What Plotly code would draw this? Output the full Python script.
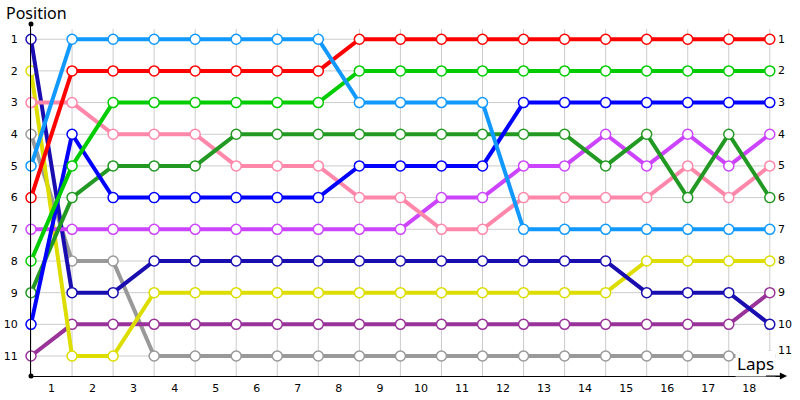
import plotly.graph_objects as go

laps = list(range(0, 19))
lap_labels = [str(i) for i in range(1, 19)]
positions = list(range(1, 12))

red = [6, 2, 2, 2, 2, 2, 2, 2, 1, 1, 1, 1, 1, 1, 1, 1, 1, 1, 1]
light_blue = [5, 1, 1, 1, 1, 1, 1, 1, 3, 3, 3, 3, 7, 7, 7, 7, 7, 7, 7]
green = [8, 5, 3, 3, 3, 3, 3, 3, 2, 2, 2, 2, 2, 2, 2, 2, 2, 2, 2]
navy = [1, 9, 9, 8, 8, 8, 8, 8, 8, 8, 8, 8, 8, 8, 8, 9, 9, 9, 10]
blue = [10, 4, 6, 6, 6, 6, 6, 6, 5, 5, 5, 5, 3, 3, 3, 3, 3, 3, 3]
yellow = [2, 11, 11, 9, 9, 9, 9, 9, 9, 9, 9, 9, 9, 9, 9, 8, 8, 8, 8]
pink = [3, 3, 4, 4, 4, 5, 5, 5, 6, 6, 7, 7, 6, 6, 6, 6, 5, 6, 5]
dark_green = [9, 6, 5, 5, 5, 4, 4, 4, 4, 4, 4, 4, 4, 4, 5, 4, 6, 4, 6]
violet = [7, 7, 7, 7, 7, 7, 7, 7, 7, 7, 6, 6, 5, 5, 4, 5, 4, 5, 4]
plum = [11, 10, 10, 10, 10, 10, 10, 10, 10, 10, 10, 10, 10, 10, 10, 10, 10, 10, 9]
gray = [4, 8, 8, 11, 11, 11, 11, 11, 11, 11, 11, 11, 11, 11, 11, 11, 11, 11, 11]

series = [
    (gray, "#999999"),
    (plum, "#993399"),
    (yellow, "#dddd00"),
    (navy, "#1a0db0"),
    (violet, "#cc44ff"),
    (pink, "#ff88aa"),
    (dark_green, "#229922"),
    (blue, "#0000ff"),
    (green, "#00cc00"),
    (red, "#ff0000"),
    (light_blue, "#1199ff"),
]

Y_TOP = 0.52
Y_BOT = 11.63
X_MAX = 18.37
FONT = "DejaVu Sans"

fig = go.Figure()

shapes = []
for lp in laps:
    shapes.append(dict(type="line", xref="x", yref="y", x0=lp, x1=lp, y0=0.68, y1=Y_BOT,
                       line=dict(color="#cccccc", width=1), layer="below"))
for p in positions:
    shapes.append(dict(type="line", xref="x", yref="y", x0=laps[0], x1=laps[-1], y0=p, y1=p,
                       line=dict(color="#cccccc", width=1), layer="below"))

for vals, col in series:
    fig.add_trace(go.Scatter(
        x=laps, y=vals, mode="lines+markers",
        line=dict(color=col, width=4),
        marker=dict(size=10, color="white", line=dict(color=col, width=1.5)),
        cliponaxis=False, hoverinfo="skip", showlegend=False))

annotations = [
    dict(xref="paper", yref="paper", x=0, y=1, xshift=-27, yshift=24,
         xanchor="left", yanchor="top", text="Position", showarrow=False,
         font=dict(family="Noto Sans", size=16, color="#000000")),
    dict(xref="x", yref="y", x=laps[-1], y=Y_BOT, xshift=6, yshift=-1, xanchor="right", yanchor="bottom",
         text="Laps", showarrow=False, bgcolor="white", borderpad=1,
         font=dict(family="Noto Sans", size=17, color="#000000")),
    dict(xref="x", yref="y", x=X_MAX + 0.05, y=Y_BOT, ax=X_MAX - 0.5, ay=Y_BOT,
         axref="x", ayref="y", showarrow=True, arrowhead=2, arrowsize=1.2,
         arrowwidth=1.2, arrowcolor="#000000", text=""),
]
for p in positions:
    annotations.append(dict(
        xref="x", yref="y", x=laps[-1], y=p, xshift=6, yshift=(6 if p == positions[-1] else 0),
        xanchor="left", yanchor="middle", text=str(p), showarrow=False,
        font=dict(family=FONT, size=11, color="#000000")))

fig.update_layout(
    width=800, height=400,
    margin=dict(l=31, r=15, t=24, b=24),
    plot_bgcolor="white", paper_bgcolor="white",
    shapes=shapes,
    xaxis=dict(range=[0, X_MAX], showgrid=False, zeroline=False, automargin=False,
               tickvals=[i + 0.5 for i in range(len(lap_labels))], ticktext=lap_labels,
               ticks="", ticklabelstandoff=2,
               tickfont=dict(family=FONT, size=11, color="#000000"),
               showline=True, linecolor="#000000", linewidth=1),
    yaxis=dict(range=[Y_BOT, Y_TOP], showgrid=False, zeroline=False, automargin=False,
               tickvals=positions, ticktext=[str(p) for p in positions],
               ticks="", ticklabelstandoff=10,
               tickfont=dict(family=FONT, size=11, color="#000000"),
               showline=True, linecolor="#000000", linewidth=1),
    annotations=annotations,
)

fig.add_trace(go.Scatter(x=[0, 0], y=[Y_TOP, Y_BOT], mode="markers",
                         marker=dict(size=5, color="#000000"), cliponaxis=False,
                         hoverinfo="skip", showlegend=False))

fig.write_html("out.html", config={"displayModeBar": False},
               post_script="document.body.style.margin='0';document.body.style.overflow='hidden';")
